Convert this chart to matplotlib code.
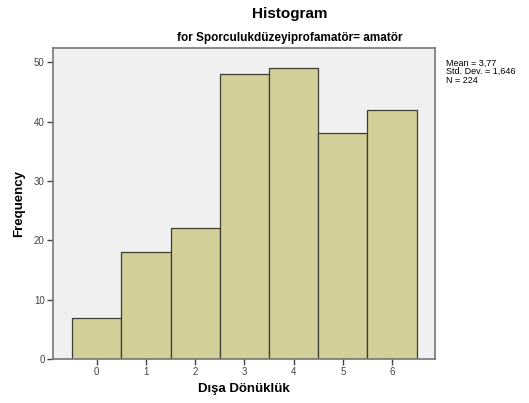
import matplotlib.pyplot as plt
import numpy as np

# values
scores = [0, 1, 2, 3, 4, 5, 6]
counts = [7, 18, 22, 48, 49, 38, 42]
yticks = [0, 10, 20, 30, 40, 50]
stats_text = "Mean = 3,77\nStd. Dev. = 1,646\nN = 224"

plt.rcParams['font.family'] = ['Liberation Sans', 'DejaVu Sans']

fig = plt.figure(figsize=(5.29, 4.03), dpi=100)
ax = fig.add_axes([0.100, 0.109, 0.722, 0.772])
ax.set_facecolor('#f0f0f0')

ax.bar(scores, counts, width=1.0, color='#d3cf98', edgecolor='#3c3c32', linewidth=0.9)

ax.set_xlim(-0.89, 6.87)
ax.set_ylim(0, 52.4)
ax.set_xticks(scores)
ax.set_yticks(yticks)
ax.tick_params(labelsize=7, colors='#444444', length=4, width=1, pad=2)
for s in ax.spines.values():
    s.set_color('#777777')
    s.set_linewidth(1.2)

ax.set_xlabel('Dışa Dönüklük', fontsize=9.5, fontweight='bold', labelpad=4)
ax.set_ylabel('Frequency', fontsize=9.5, fontweight='bold', labelpad=6)

fig.text(0.548, 0.965, 'Histogram', ha='center', va='center',
         fontsize=11, fontweight='bold')
fig.text(0.548, 0.906, 'for Sporculukdüzeyiprofamatör= amatör',
         ha='center', va='center', fontsize=8.5, fontweight='bold')
fig.text(0.843, 0.855, stats_text, ha='left', va='top', fontsize=6.5, linespacing=0.95)

fig.savefig('out.png', dpi=100)
